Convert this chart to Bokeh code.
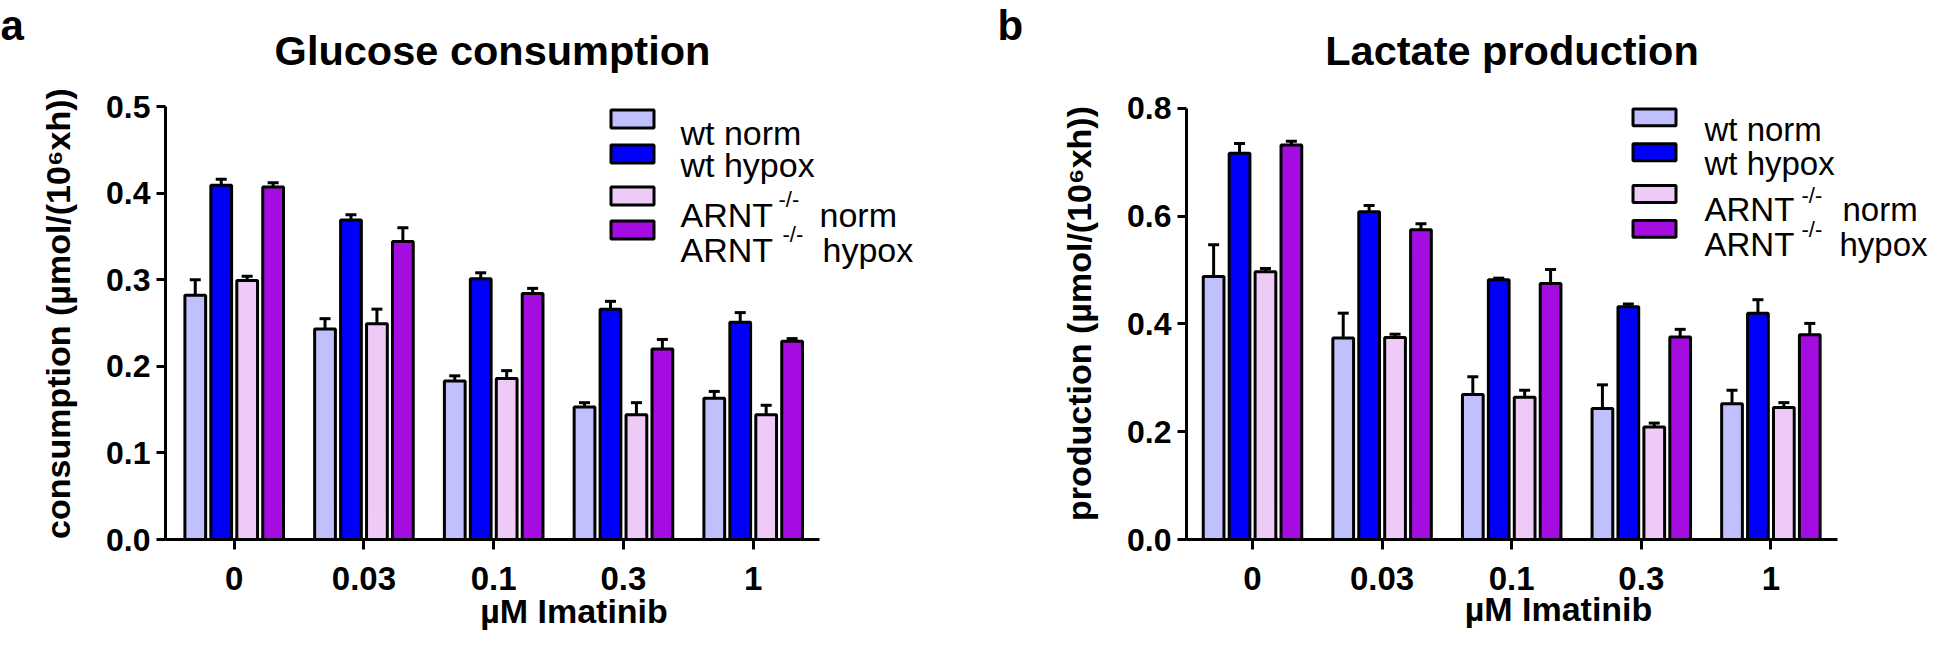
from bokeh.plotting import figure
from bokeh.models import (ColumnDataSource, FixedTicker, PrintfTickFormatter, Label,
                          Whisker, TeeHead, Range1d)
from bokeh.layouts import row, column
from bokeh.embed import file_html
from bokeh.resources import INLINE

# ---------------- data ----------------
doses = ["0", "0.03", "0.1", "0.3", "1"]
series = ["wt norm", "wt hypox", "ARNT -/- norm", "ARNT -/- hypox"]
colors = ["#C0C0FC", "#0000FA", "#EECBF6", "#A50CE0"]

# Glucose consumption (µmol/(10^6 x h))
glc_wt_norm = [0.282, 0.243, 0.183, 0.153, 0.163]
glc_wt_hypox = [0.409, 0.369, 0.301, 0.266, 0.251]
glc_arnt_norm = [0.299, 0.249, 0.186, 0.144, 0.144]
glc_arnt_hypox = [0.407, 0.344, 0.284, 0.220, 0.229]
glc_wt_norm_err = [0.018, 0.012, 0.006, 0.005, 0.008]
glc_wt_hypox_err = [0.007, 0.006, 0.007, 0.009, 0.011]
glc_arnt_norm_err = [0.005, 0.017, 0.009, 0.014, 0.011]
glc_arnt_hypox_err = [0.005, 0.016, 0.006, 0.011, 0.003]

# Lactate production (µmol/(10^6 x h))
lac_wt_norm = [0.488, 0.374, 0.269, 0.243, 0.252]
lac_wt_hypox = [0.717, 0.608, 0.482, 0.432, 0.420]
lac_arnt_norm = [0.497, 0.375, 0.264, 0.209, 0.245]
lac_arnt_hypox = [0.732, 0.575, 0.475, 0.376, 0.380]
lac_wt_norm_err = [0.059, 0.046, 0.033, 0.044, 0.025]
lac_wt_hypox_err = [0.018, 0.012, 0.003, 0.005, 0.025]
lac_arnt_norm_err = [0.006, 0.006, 0.013, 0.007, 0.009]
lac_arnt_hypox_err = [0.007, 0.011, 0.026, 0.014, 0.021]

glc_ticks = [0.0, 0.1, 0.2, 0.3, 0.4, 0.5]
lac_ticks = [0.0, 0.2, 0.4, 0.6, 0.8]

titles = ["Glucose consumption", "Lactate production"]
letters = ["a", "b"]
x_title = "µM Imatinib"

FONT = "Liberation Sans"
offsets = [-0.3, -0.1, 0.1, 0.3]
BAR_W = 0.16

# page layout (page pixels; body margin 8)
TOTAL_W = 1930
TOP_Y0, TOP_Y1 = 8, 95        # strip with panel letters and titles
ROW_Y1 = 640                  # bottom of the chart row


def strip(y0, y1):
    s = figure(width=TOTAL_W, height=y1 - y0, output_backend="svg", toolbar_location=None,
               x_range=Range1d(8, 8 + TOTAL_W), y_range=Range1d(y1, y0),
               x_axis_type=None, y_axis_type=None,
               min_border_left=0, min_border_right=0, min_border_top=0, min_border_bottom=0)
    s.outline_line_color = None
    s.grid.visible = False
    s.background_fill_color = "white"
    s.border_fill_color = "white"
    return s


def text_label(fig, text, x, y, size, style="normal", align="left"):
    fig.add_layout(Label(x=x, y=y, text=text, text_font=FONT, text_font_size=f"{size}px",
                         text_font_style=style, text_align=align,
                         text_baseline="alphabetic", text_color="black"))


def make_panel(vals, errs, yticks, ylabel, g):
    ox, W = g["ox"], g["W"]
    fl, fr_axis, fb, ytop = g["fl"], g["fr_axis"], g["fb"], g["ytop"]
    ppu = g["ppu"]
    x0 = -(g["cat0"] - fl) / ppu
    x_axis_end = x0 + (fr_axis - fl) / ppu
    x_frame_end = x0 + (ox + W - fl) / ppu
    yscale = (yticks[-1] - yticks[0]) / (fb - ytop)
    y_frame_end = (fb - TOP_Y1) * yscale

    p = figure(width=W, height=ROW_Y1 - TOP_Y1, output_backend="svg", toolbar_location=None,
               x_range=Range1d(x0, x_frame_end), y_range=Range1d(0, y_frame_end),
               min_border_left=fl - ox, min_border_right=0,
               min_border_top=0, min_border_bottom=ROW_Y1 - fb)
    p.outline_line_color = None
    p.xgrid.visible = False
    p.ygrid.visible = False
    p.background_fill_color = "white"
    p.border_fill_color = "white"

    idx = list(range(len(doses)))
    for k in range(4):
        xs = [i + offsets[k] for i in idx]
        src = ColumnDataSource(dict(x=xs, val=vals[k],
                                    up=[v + e for v, e in zip(vals[k], errs[k])]))
        p.vbar(x="x", top="val", bottom=0, width=BAR_W, source=src,
               fill_color=colors[k], line_color="black", line_width=3)
        p.add_layout(Whisker(source=src, base="x", lower="val", upper="up", dimension="height",
                             line_color="black", line_width=3, level="annotation",
                             upper_head=TeeHead(size=11, line_width=3, line_color="black"),
                             lower_head=None))

    for ax in (p.xaxis, p.yaxis):
        ax.axis_line_width = 3
        ax.axis_line_color = "black"
        ax.major_tick_line_width = 3
        ax.major_tick_line_color = "black"
        ax.major_tick_in = 0
        ax.minor_tick_line_color = None
        ax.major_label_text_font = FONT
        ax.major_label_text_font_style = "bold"
        ax.major_label_text_color = "black"
        ax.axis_label_text_font = FONT
        ax.axis_label_text_font_style = "bold"
        ax.axis_label_text_color = "black"

    p.xaxis.bounds = (x0, x_axis_end)
    p.xaxis.ticker = FixedTicker(ticks=idx)
    p.xaxis.major_label_overrides = {i: d for i, d in zip(idx, doses)}
    p.xaxis.major_tick_out = 10
    p.xaxis.major_label_standoff = 17
    p.xaxis.major_label_text_font_size = "33px"
    p.xaxis.axis_label = x_title
    p.xaxis.axis_label_text_font_size = "34px"
    p.xaxis.axis_label_standoff = g["xals"]

    p.yaxis.bounds = (yticks[0], yticks[-1])
    p.yaxis.ticker = FixedTicker(ticks=yticks)
    p.yaxis.formatter = PrintfTickFormatter(format="%.1f")
    p.yaxis.major_tick_out = 9
    p.yaxis.major_label_standoff = 6
    p.yaxis.major_label_text_font_size = "32px"
    p.yaxis.axis_label = ylabel
    p.yaxis.axis_label_text_font_size = "34px"
    p.yaxis.axis_label_standoff = 26

    dx = lambda px: x0 + (px - fl) / ppu
    dy = lambda py: (fb - py) * yscale

    L = g["leg"]
    for k, name in enumerate(series):
        top, bot = L["box_y"][k]
        p.quad(left=dx(L["box_x"][0]), right=dx(L["box_x"][1]), top=dy(top), bottom=dy(bot),
               fill_color=colors[k], line_color="black", line_width=3)
        base = L["base"][k]
        if "-/-" in name:
            pre, post = [s.strip() for s in name.split("-/-")]
            text_label(p, pre, dx(L["tx"]), dy(base), L["fs"])
            text_label(p, "-/-", dx(L["sup_x"][k]), dy(base - 15), 22)
            text_label(p, post, dx(L["post_x"][k]), dy(base), L["fs"])
        else:
            text_label(p, name, dx(L["tx"]), dy(base), L["fs"])
    return p


geo_a = dict(ox=8, W=982, fl=173, fr_axis=827, fb=547, ytop=114, cat0=241.7, ppu=129.75, xals=-1,
             leg=dict(box_x=(618.5, 661.5), fs=34,
                      box_y=[(117.5, 135.5), (152.5, 170.5), (194.5, 212.5), (228.5, 246.5)],
                      tx=688, base=[140, 172, 222, 257],
                      sup_x=[0, 0, 786, 790], post_x=[0, 0, 827, 830]))
geo_b = dict(ox=990, W=948, fl=1194, fr_axis=1845, fb=549, ytop=116, cat0=1260, ppu=129.6, xals=-3,
             leg=dict(box_x=(1640.5, 1683.5), fs=33,
                      box_y=[(116.5, 133.5), (151.5, 168.5), (193.5, 210.5), (228.5, 245.5)],
                      tx=1712, base=[137, 171, 218, 253],
                      sup_x=[0, 0, 1809, 1809], post_x=[0, 0, 1850, 1847]))

pa = make_panel([glc_wt_norm, glc_wt_hypox, glc_arnt_norm, glc_arnt_hypox],
                [glc_wt_norm_err, glc_wt_hypox_err, glc_arnt_norm_err, glc_arnt_hypox_err],
                glc_ticks, "consumption (µmol/(10⁶xh))", geo_a)
pb = make_panel([lac_wt_norm, lac_wt_hypox, lac_arnt_norm, lac_arnt_hypox],
                [lac_wt_norm_err, lac_wt_hypox_err, lac_arnt_norm_err, lac_arnt_hypox_err],
                lac_ticks, "production (µmol/(10⁶xh))", geo_b)

top = strip(TOP_Y0, TOP_Y1)
for g, t, letter, lx in ((geo_a, titles[0], letters[0], 8), (geo_b, titles[1], letters[1], 1005)):
    cx = (g["fl"] + g["fr_axis"]) / 2
    text_label(top, letter, lx, 33, 42, "bold")
    text_label(top, t, cx, 58, 41.5, "bold", "center")

layout = column(top, row(pa, pb))
open("out.html", "w").write(file_html(layout, INLINE))
